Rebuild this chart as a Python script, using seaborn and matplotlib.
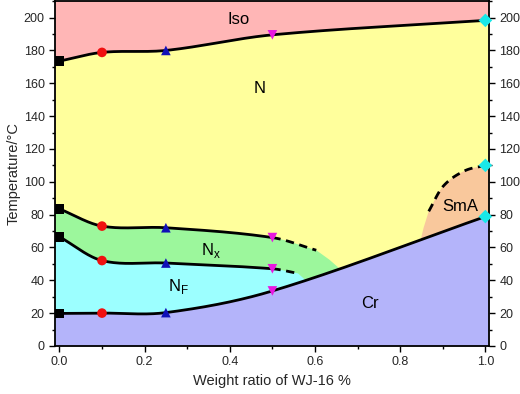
import numpy as np
import pandas as pd
import matplotlib
matplotlib.use("Agg")
import matplotlib.pyplot as plt
from matplotlib.ticker import MultipleLocator
import seaborn as sns

sns.set_theme(style="ticks")
plt.rcParams["font.family"] = ["Liberation Sans", "DejaVu Sans"]

# ── data ────────────────────────────────────────────────────
ratio = [0.0, 0.1, 0.25, 0.5, 1.0]
t_iso = [173.5, 178.8, 180.0, 189.5, 198.3]      # Iso -> N
t_n_nx = [83.5, 73.0, 72.0, 66.0]                # N -> Nx   (0 .. 0.5)
t_nx_nf = [66.5, 52.0, 50.5, 47.0]               # Nx -> NF  (0 .. 0.5)
t_cr = [19.8, 20.0, 20.3, 33.5, 78.8]            # melting
t_sma = 110.0                                    # N -> SmA at ratio 1.0

# dashed (guessed) continuations and region edges
n_nx_dash = (0.603, 58.3)
nx_nf_dash = (0.56, 44.2)
nx_edge_x = [0.603, 0.634, 0.656]
nx_edge_t = [58.3, 52.5, 47.5]
nf_edge_x = [0.56, 0.576]
nf_edge_t = [44.2, 40.5]
sma_dash_x = [0.867, 0.9, 0.95, 1.0]
sma_dash_t = [82.0, 97.0, 106.5, t_sma]
sma_edge_x = [0.867, 0.855, 0.848]
sma_edge_t = [82.0, 72.0, 64.5]

MARKERS = ["s", "o", "^", "v", "D"]
MCOLORS = ["#000000", "#f01010", "#1010b8", "#e818e0", "#18e8e8"]

C_ISO, C_N, C_NX = "#ffb6b6", "#ffff9c", "#9cf79c"
C_NF, C_CR, C_SMA = "#9cffff", "#b4b4fa", "#f9c89c"


def spline(xk, yk, xs):
    # cubic Hermite through the points (Catmull-Rom style tangents)
    xk, yk = np.asarray(xk, float), np.asarray(yk, float)
    n = len(xk)
    m = np.empty(n)
    m[0] = (yk[1] - yk[0]) / (xk[1] - xk[0])
    m[-1] = (yk[-1] - yk[-2]) / (xk[-1] - xk[-2])
    m[1:-1] = (yk[2:] - yk[:-2]) / (xk[2:] - xk[:-2])
    xs = np.asarray(xs, float)
    k = np.clip(np.searchsorted(xk, xs) - 1, 0, n - 2)
    h = xk[k + 1] - xk[k]
    t = (xs - xk[k]) / h
    h00 = 2 * t**3 - 3 * t**2 + 1
    h10 = t**3 - 2 * t**2 + t
    h01 = -2 * t**3 + 3 * t**2
    h11 = t**3 - t**2
    return h00 * yk[k] + h10 * h * m[k] + h01 * yk[k + 1] + h11 * h * m[k + 1]


XMIN, XMAX, YMAX = -0.01, 1.008, 210

fig = plt.figure(figsize=(5.2, 3.94), dpi=100)
ax = fig.add_axes([0.106, 0.122, 0.834, 0.875])
ax.set_facecolor(C_ISO)

xf = np.linspace(XMIN, XMAX, 400)
xc = np.clip(xf, 0, 1)

# N region (everything below Iso line)
ax.fill_between(xf, 0, spline(ratio, t_iso, xc), color=C_N, lw=0)

# Nx region
nx_k_x = ratio[:4] + [n_nx_dash[0]]
nx_k_t = t_n_nx + [n_nx_dash[1]]
xs = np.linspace(0, n_nx_dash[0], 200)
px = np.r_[XMIN, xs, nx_edge_x, nx_edge_x[-1] + 0.005, XMIN]
py = np.r_[t_n_nx[0], spline(nx_k_x, nx_k_t, xs), nx_edge_t, 0, 0]
ax.fill(px, py, color=C_NX, lw=0)

# NF region
nf_k_x = ratio[:4] + [nx_nf_dash[0]]
nf_k_t = t_nx_nf + [nx_nf_dash[1]]
xs = np.linspace(0, nx_nf_dash[0], 200)
px = np.r_[XMIN, xs, nf_edge_x, nf_edge_x[-1] + 0.005, XMIN]
py = np.r_[t_nx_nf[0], spline(nf_k_x, nf_k_t, xs), nf_edge_t, 0, 0]
ax.fill(px, py, color=C_NF, lw=0)

# SmA region
xs = np.linspace(sma_dash_x[0], 1.0, 100)
ys_sma = spline(sma_dash_x, sma_dash_t, xs)
px = np.r_[xs, XMAX, XMAX, sma_edge_x[-1] - 0.005, sma_edge_x[::-1]]
py = np.r_[ys_sma, t_sma, 0, 0, sma_edge_t[::-1]]
ax.fill(px, py, color=C_SMA, lw=0)

# Cr region
ax.fill_between(xf, 0, spline(ratio, t_cr, xc), color=C_CR, lw=0)

# ── transition lines ─────────────────────────────────────────
line_kw = dict(ax=ax, color="black", lw=2, sort=False, estimator=None, legend=False)
xl = np.linspace(0, 1, 300)
sns.lineplot(x=xl, y=spline(ratio, t_iso, xl), **line_kw)
sns.lineplot(x=xl, y=spline(ratio, t_cr, xl), **line_kw)

xl = np.linspace(0, 0.5, 150)
sns.lineplot(x=xl, y=spline(nx_k_x, nx_k_t, xl), **line_kw)
sns.lineplot(x=xl, y=spline(nf_k_x, nf_k_t, xl), **line_kw)

dash_kw = dict(line_kw, linestyle=(0, (3, 2)))
xl = np.linspace(0.5, n_nx_dash[0], 60)
sns.lineplot(x=xl, y=spline(nx_k_x, nx_k_t, xl), **dash_kw)
xl = np.linspace(0.5, nx_nf_dash[0], 60)
sns.lineplot(x=xl, y=spline(nf_k_x, nf_k_t, xl), **dash_kw)
sns.lineplot(x=xs, y=ys_sma, **dash_kw)

# ── measured points ──────────────────────────────────────────
rows = []
for i, r in enumerate(ratio):
    temps = [t_iso[i], t_cr[i]]
    if i < 4:
        temps += [t_n_nx[i], t_nx_nf[i]]
    else:
        temps += [t_sma]
    rows += [{"ratio": r, "T": t, "grp": i} for t in temps]
pts = pd.DataFrame(rows)
sns.scatterplot(data=pts, x="ratio", y="T", hue="grp", style="grp",
                palette=MCOLORS, markers=MARKERS, s=48, linewidth=0,
                legend=False, ax=ax, zorder=5, clip_on=False)

# ── region labels ────────────────────────────────────────────
lab = dict(fontsize=12, ha="center", va="center", color="black")
ax.text(0.42, 199, "Iso", **lab)
ax.text(0.47, 157, "N", **lab)
ax.text(0.355, 58, r"N$_\mathregular{x}$", **lab)
ax.text(0.28, 36, r"N$_\mathregular{F}$", **lab)
ax.text(0.73, 26, "Cr", **lab)
ax.text(0.94, 85, "SmA", **lab)

# ── axes ─────────────────────────────────────────────────────
ax.set_xlim(XMIN, XMAX)
ax.set_ylim(0, YMAX)
ax.xaxis.set_major_locator(MultipleLocator(0.2))
ax.xaxis.set_minor_locator(MultipleLocator(0.1))
ax.yaxis.set_major_locator(MultipleLocator(20))
ax.yaxis.set_minor_locator(MultipleLocator(10))
ax.tick_params(which="both", direction="out", top=False, right=True,
               labelright=True, labelsize=9, width=1, color="black")
ax.tick_params(which="major", length=4)
ax.tick_params(which="minor", length=2.5)
for s in ax.spines.values():
    s.set_linewidth(1.3)
    s.set_color("black")
ax.set_xlabel("Weight ratio of WJ-16 %", fontsize=10.5)
ax.set_ylabel("Temperature/°C", fontsize=10.5, labelpad=2)

fig.savefig("out.png", dpi=100)
